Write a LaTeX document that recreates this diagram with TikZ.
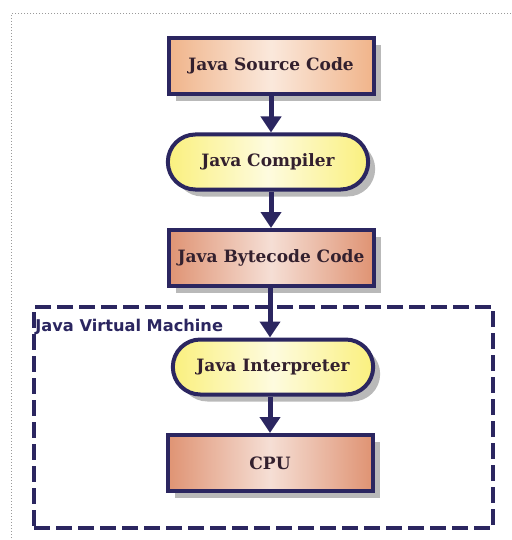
\documentclass[tikz,border=0pt]{standalone}
\usepackage{fontspec}
\setmainfont{DejaVu Serif}
\newfontfamily\jvmfont{DejaVu Sans}
\usetikzlibrary{shapes.misc, arrows.meta, positioning, shadows}
\definecolor{jnavy}{HTML}{2B2660}
\definecolor{jtext}{HTML}{33202E}
\definecolor{jpeach}{HTML}{F0B48A}
\definecolor{jsalmon}{HTML}{DF9373}
\definecolor{jyellow}{HTML}{FAF07E}
\definecolor{jdots}{HTML}{9A9A9A}

\begin{document}
\begin{tikzpicture}[x=1pt, y=-1pt,
    stage/.style={rectangle, draw=jnavy, line width=4pt, left color=#1, right color=#1, middle color=#1!30, minimum width=205pt, minimum height=56pt, font=\fontsize{17}{20}\selectfont\bfseries, text=jtext, drop shadow={shadow xshift=7pt, shadow yshift=-7pt, fill=black!50, opacity=0.55}},
    tool/.style={rounded rectangle, draw=jnavy, line width=4pt, left color=jyellow, right color=jyellow, middle color=jyellow!25, minimum width=207pt, minimum height=55pt, font=\fontsize{17}{20}\selectfont\bfseries, text=jtext, drop shadow={shadow xshift=7pt, shadow yshift=-7pt, fill=black!50, opacity=0.55}},
    jvmbox/.style={rectangle, draw=jnavy, line width=3.5pt, dash pattern=on 16pt off 6pt, minimum width=459pt, minimum height=221pt},
    flow/.style={-{Triangle[length=16pt, width=20pt]}, line width=5pt, draw=jnavy}
]
\useasboundingbox (0,0) rectangle (511,540);

% Page frame
\draw[jdots, dotted, line width=1pt] (511,14) -- (11,14) -- (11,540);

% Virtual machine
\node[jvmbox] (jvm) at (263.5,417.5) {};
\node[anchor=north west, inner sep=0pt, font=\jvmfont\fontsize{16.2}{19}\selectfont\bfseries, text=jnavy] (jvmlabel) at ([shift={(3pt,-14pt)}]jvm.north west) {Java Virtual Machine};

% Stages
\node[stage=jpeach] (src) at (271,66) {Java Source Code};
\node[tool] (comp) at (268,162) {Java Compiler};
\node[stage=jsalmon] (byte) at (271,258) {Java Bytecode Code};
\node[tool] (interp) at (273,367) {Java Interpreter};
\node[stage=jsalmon] (cpu) at (270,463) {CPU};

% Flow
\draw[flow] (src.south -| 271,0) -- (comp.north -| 271,0);
\draw[flow] (comp.south -| 271,0) -- (byte.north -| 271,0);
\draw[flow] (byte.south -| 270,0) -- (interp.north -| 270,0);
\draw[flow] (interp.south -| 270,0) -- (cpu.north -| 270,0);

\end{tikzpicture}
\end{document}
